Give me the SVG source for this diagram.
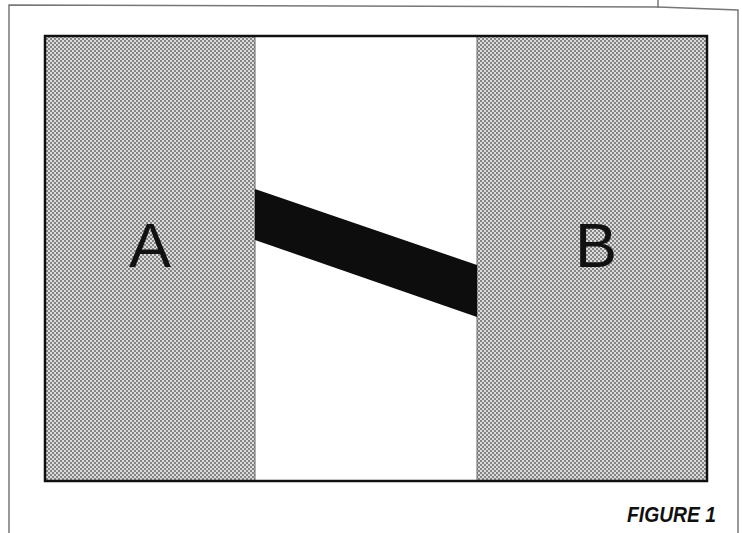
<svg xmlns="http://www.w3.org/2000/svg" width="742" height="533" viewBox="0 0 742 533">
<defs>
<pattern id="dots" width="4" height="4" patternUnits="userSpaceOnUse">
<rect width="4" height="4" fill="#dcdcdc"/>
<circle cx="1" cy="1" r="0.9" fill="#5a5a5a"/>
<circle cx="3" cy="3" r="0.9" fill="#5a5a5a"/>
</pattern>
<style>
.panel{fill:url(#dots);stroke:#666;stroke-width:1}
.lbl{font-family:"Liberation Sans",Arial,sans-serif;font-size:63px;fill:#111;text-anchor:middle}
.cap{font-family:"Liberation Sans",Arial,sans-serif;font-size:22px;font-weight:bold;font-style:italic;fill:#111}
.frame{fill:none;stroke:#777;stroke-width:1.5}
</style>
</defs>
<rect width="742" height="533" fill="#ffffff"/>
<g id="frame">
<path class="frame" d="M9,533 L9,5 L658,7 L738,10 L738,533"/>
<line class="frame" x1="658" y1="0" x2="658" y2="8"/>
</g>
<g id="panelA">
<rect class="panel" x="45" y="36" width="210" height="445"/>
<text class="lbl" x="150" y="267">A</text>
</g>
<g id="panelB">
<rect class="panel" x="477" y="36" width="230" height="445"/>
<text class="lbl" x="596" y="267">B</text>
</g>
<g id="connectors">
<polygon points="255,189 477,265 477,317 255,240" fill="#0d0d0d"/>
</g>
<g id="border">
<rect x="45" y="36" width="662" height="445" fill="none" stroke="#111" stroke-width="2.5"/>
</g>
<g id="caption">
<text class="cap" x="627" y="522" textLength="89" lengthAdjust="spacingAndGlyphs">FIGURE 1</text>
</g>
</svg>
